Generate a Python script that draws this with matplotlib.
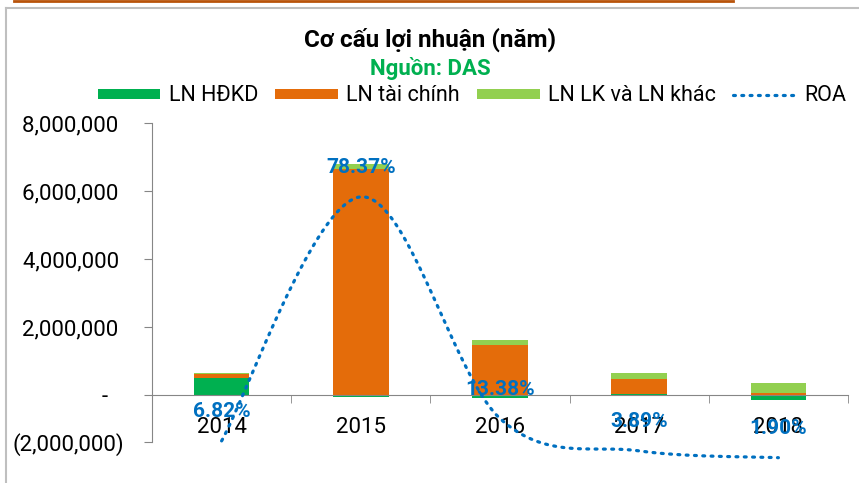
import matplotlib
matplotlib.use("Agg")
import matplotlib.pyplot as plt
import numpy as np
from matplotlib.patches import Patch
from matplotlib.lines import Line2D
from matplotlib.ticker import FixedLocator

plt.rcParams['font.family'] = ['Roboto', 'DejaVu Sans']

years = ["2014", "2015", "2016", "2017", "2018"]
ln_hdkd = [510000, -50000, -90000, 20000, -150000]
ln_taichinh = [106000, 6650000, 1460000, 450000, 70000]
ln_lk_khac = [30000, 150000, 170000, 180000, 280000]
roa = [6.82, 78.37, 13.38, 3.89, 1.90]

# axis as drawn in the reference: bottom tick labelled (2,000,000)
y_axis_min = -1380000
y_tick_values = [y_axis_min, 0, 2000000, 4000000, 6000000, 8000000]
y_tick_labels = ["(2,000,000)", "-   ", "2,000,000 ", "4,000,000 ", "6,000,000 ", "8,000,000 "]

series_names = ["LN HĐKD", "LN tài chính", "LN LK và LN khác"]
series_colors = ["#00B050", "#E46C0A", "#92D050"]
roa_color = "#0070C0"

W, H = 859, 483
fig = plt.figure(figsize=(W / 100, H / 100), dpi=100)
ax = fig.add_axes([152 / W, 1 - 442 / H, (848 - 152) / W, (442 - 123) / H])

x = np.arange(len(years))
pos_bottom = np.zeros(len(years))
neg_bottom = np.zeros(len(years))
for vals, col in zip([ln_hdkd, ln_taichinh, ln_lk_khac], series_colors):
    v = np.array(vals, dtype=float)
    bottoms = np.where(v >= 0, pos_bottom, neg_bottom)
    ax.bar(x, v, width=0.4, bottom=bottoms, color=col, edgecolor="none", zorder=2)
    pos_bottom = pos_bottom + np.where(v >= 0, v, 0)
    neg_bottom = neg_bottom + np.where(v < 0, v, 0)

ax.set_xlim(-0.5, len(years) - 0.5)
ax.set_ylim(y_axis_min, 8000000)
ax.set_yticks(y_tick_values)
ax.set_yticklabels(y_tick_labels)

spine_col = "#868686"
for s in ["top", "right"]:
    ax.spines[s].set_visible(False)
ax.spines["left"].set_color(spine_col)
ax.spines["bottom"].set_color(spine_col)
ax.spines["bottom"].set_position(("data", 0))
ax.tick_params(axis="y", direction="out", length=6, color=spine_col, labelsize=16, pad=14)
ax.set_xticks(x)
ax.set_xticklabels(years)
ax.tick_params(axis="x", which="major", length=0, labelsize=16, pad=16)
ax.xaxis.set_minor_locator(FixedLocator(np.arange(-0.5, len(years), 1.0)))
ax.tick_params(axis="x", which="minor", direction="out", length=6, color=spine_col)

# ROA on secondary (hidden) axis, smoothed like Excel
ax2 = ax.twinx()
ax2.set_ylim(6.5, 100)
ax2.axis("off")
P = np.column_stack([x.astype(float), np.array(roa, dtype=float)])
Pext = np.vstack([P[0], P, P[-1]])
curve = []
for i in range(len(P) - 1):
    p0, p1, p2, p3 = Pext[i], Pext[i + 1], Pext[i + 2], Pext[i + 3]
    c1 = p1 + (p2 - p0) / 6.0
    c2 = p2 - (p3 - p1) / 6.0
    t = np.linspace(0, 1, 40)[:, None]
    b = (1 - t) ** 3 * p1 + 3 * (1 - t) ** 2 * t * c1 + 3 * (1 - t) * t ** 2 * c2 + t ** 3 * p2
    curve.append(b if i == 0 else b[1:])
curve = np.vstack(curve)
ax2.plot(curve[:, 0], curve[:, 1], color=roa_color, lw=2.3, linestyle=(0, (0.6, 2.0)),
         dash_capstyle="round", clip_on=False, zorder=3)
for xi, r in zip(x, roa):
    ax2.annotate("{:.2f}%".format(r), (xi, r), xytext=(0, 21), textcoords="offset points",
                 ha="center", va="center", color=roa_color, fontsize=15, fontweight="bold",
                 annotation_clip=False)

# Titles
fig.text(430 / W, 1 - 40 / H, "Cơ cấu lợi nhuận (năm)", ha="center", va="center",
         fontsize=17.5, fontweight="bold", color="black")
fig.text(430 / W, 1 - 68 / H, "Nguồn: DAS", ha="center", va="center",
         fontsize=16, fontweight="bold", color="#00B050")

handles = [Patch(facecolor=c, edgecolor="none") for c in series_colors]
handles.append(Line2D([0], [0], color=roa_color, lw=2.3, linestyle=(0, (0.6, 2.0)),
                      dash_capstyle="round"))
fig.legend(handles, series_names + ["ROA"], loc="center", bbox_to_anchor=(472 / W, 1 - 96 / H),
           ncol=4, frameon=False, fontsize=15.5, handlelength=2.9, handleheight=0.35,
           handletextpad=0.4, columnspacing=0.8, borderaxespad=0, borderpad=0)

# Decorations: chart border and top orange rule
fig.add_artist(Line2D([6 / W, 1.0], [1 - 8 / H, 1 - 8 / H], transform=fig.transFigure,
                      color="#BFBFBF", lw=1.5))
fig.add_artist(Line2D([6 / W, 6 / W], [1 - 8 / H, 0.0], transform=fig.transFigure,
                      color="#BFBFBF", lw=1.5))
fig.add_artist(Line2D([14 / W, 733 / W], [1 - 1 / H, 1 - 1 / H], transform=fig.transFigure,
                      color="#B8530A", lw=2))

fig.savefig("out.png", dpi=100)
